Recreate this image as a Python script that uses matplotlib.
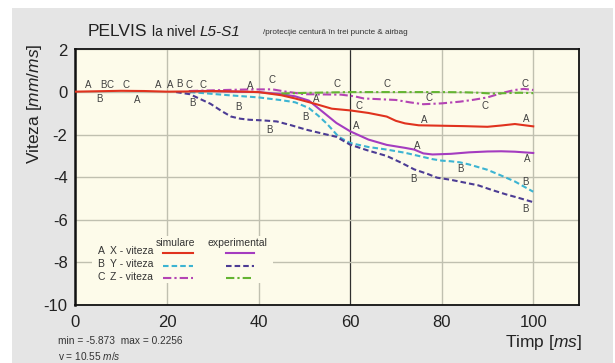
import matplotlib
matplotlib.use("Agg")
import matplotlib.pyplot as plt
from matplotlib.patches import Rectangle
from matplotlib.lines import Line2D

plt.rcParams['font.family'] = ['Liberation Sans', 'DejaVu Sans']
plt.rcParams['mathtext.fontset'] = 'custom'
plt.rcParams['mathtext.rm'] = 'Liberation Sans'
plt.rcParams['mathtext.it'] = 'Liberation Sans:italic'
plt.rcParams['lines.scale_dashes'] = False

# ---------------- data ----------------
a_sim_t = [0, 5, 10, 15, 20, 25, 30, 35, 40, 45, 48, 52, 56, 60, 64, 68, 70, 72, 75, 80, 85, 90, 93, 96, 100]
a_sim_v = [0.02, 0.04, 0.06, 0.05, 0.02, 0.03, 0.05, 0.03, 0.0, -0.15, -0.3, -0.53, -0.78, -0.86, -0.98, -1.15,
           -1.35, -1.47, -1.56, -1.58, -1.6, -1.63, -1.57, -1.5, -1.61]

a_exp_t = [25, 30, 35, 40, 45, 48, 51, 53, 55, 57, 60, 64, 68, 72, 74, 76, 78, 82, 86, 90, 93, 96, 100]
a_exp_v = [0.05, 0.05, 0.02, 0.0, -0.1, -0.2, -0.4, -0.75, -1.1, -1.45, -1.84, -2.23, -2.48, -2.62, -2.7,
           -2.88, -2.93, -2.9, -2.83, -2.79, -2.78, -2.8, -2.86]

b_sim_t = [25, 28, 33, 40, 45, 48, 51, 53, 55, 57.5, 60, 64, 68, 72, 75, 78, 80, 82, 84, 86, 90, 93, 96, 100]
b_sim_v = [0.0, -0.05, -0.14, -0.25, -0.38, -0.48, -0.75, -1.1, -1.5, -2.1, -2.39, -2.58, -2.7, -2.85, -3.0,
           -3.15, -3.22, -3.25, -3.3, -3.4, -3.65, -3.92, -4.2, -4.68]

b_exp_t = [22, 25, 27, 29.5, 32, 34, 36, 38, 41, 44, 47, 50.5, 54, 57, 60, 64, 68, 71, 74, 77, 79, 82, 85, 88,
           91, 94, 97, 100]
b_exp_v = [0.0, -0.1, -0.3, -0.55, -0.9, -1.15, -1.25, -1.3, -1.33, -1.38, -1.55, -1.77, -1.95, -2.1, -2.47,
           -2.75, -3.0, -3.3, -3.63, -3.85, -4.02, -4.12, -4.25, -4.38, -4.6, -4.8, -4.98, -5.17]

c_sim_t = [25, 28, 33, 37, 43, 46, 50, 54, 58, 61, 63, 66, 70, 73, 76, 80, 84, 87, 90, 92, 94, 96, 98, 100]
c_sim_v = [0.05, 0.07, 0.1, 0.12, 0.13, 0.02, -0.1, -0.11, -0.12, -0.2, -0.3, -0.33, -0.37, -0.48, -0.57,
           -0.53, -0.45, -0.36, -0.25, -0.12, 0.0, 0.1, 0.15, 0.1]

c_exp_t = [45, 50, 55, 60, 65, 70, 75, 80, 85, 88, 91, 94, 97, 100]
c_exp_v = [-0.07, -0.04, -0.02, 0.0, 0.0, 0.0, 0.0, 0.0, -0.01, -0.03, -0.07, -0.05, -0.03, -0.05]

marker_t = [2.8, 6.2, 7.6, 11.0, 18.1, 20.7, 22.8, 24.8, 27.9, 38.1, 42.9, 5.2, 13.4, 25.5, 35.7, 52.6, 50.2,
            42.4, 57.1, 68.0, 62.0, 61.3, 76.2, 77.3, 89.4, 98.2, 98.4, 74.7, 98.6, 84.2, 73.8, 98.4, 98.4]
marker_v = [0.35, 0.35, 0.35, 0.35, 0.35, 0.35, 0.38, 0.35, 0.35, 0.28, 0.59, -0.34, -0.37, -0.53, -0.68, -0.34,
            -1.19, -1.77, 0.37, 0.37, -0.64, -1.57, -1.30, -0.29, -0.64, 0.37, -1.26, -2.51, -3.13, -3.63, -4.06,
            -4.2, -5.49]
marker_s = ['A', 'B', 'C', 'C', 'A', 'A', 'B', 'C', 'C', 'A', 'C', 'B', 'A', 'B', 'B', 'A', 'B',
            'B', 'C', 'C', 'C', 'A', 'A', 'C', 'C', 'C', 'A', 'A', 'A', 'B', 'B', 'B', 'B']

x_ticks = [0, 20, 40, 60, 80, 100]
y_ticks = [2, 0, -2, -4, -6, -8, -10]

# ---------------- styles ----------------
RED = '#e0321e'
PURPLE = '#a43cc0'
CYAN = '#3cb4d2'
NAVY = '#4c3c94'
MAGENTA = '#b444b4'
GREEN = '#64b432'
DASH = (4.0, 2.2)
DASHDOT = (6.0, 2.2, 1.6, 2.2)

W, H = 615, 363
fig = plt.figure(figsize=(W / 100, H / 100), dpi=100)
fig.patch.set_facecolor('white')


def fx(px):
    return px / W


def fy(py):
    return 1 - py / H


fig.add_artist(Rectangle((fx(12), 0), fx(613) - fx(12), fy(8), transform=fig.transFigure,
                         facecolor='#e5e5e5', edgecolor='none', zorder=0))

ax = fig.add_axes([fx(74.5), fy(305), fx(579) - fx(74.5), fy(49.5) - fy(305)])
ax.set_facecolor('#fdfbea')
ax.set_xlim(-0.2, 110)
ax.set_ylim(-10, 2)
ax.set_xticks(x_ticks)
ax.set_yticks(y_ticks)
ax.set_xticklabels([str(v) for v in x_ticks])
ax.set_yticklabels([str(v) for v in y_ticks])
ax.tick_params(length=0, labelsize=12, colors='#222222')
ax.tick_params(axis='x', pad=7)
ax.tick_params(axis='y', pad=5)
ax.set_axisbelow(True)
ax.grid(True, color='#c0c0b0', lw=1.0)
for gl, v in zip(ax.get_xgridlines(), x_ticks):
    if v == 60:
        gl.set_color('#303030')
        gl.set_linewidth(0.9)
for s in ax.spines.values():
    s.set_color('#111111')
    s.set_linewidth(1.3)
ax.spines['left'].set_linewidth(1.8)

lw = 1.5
ax.plot(a_sim_t, a_sim_v, color=RED, lw=lw, zorder=4)
ax.plot(a_exp_t, a_exp_v, color=PURPLE, lw=lw, zorder=3)
ax.plot(b_sim_t, b_sim_v, color=CYAN, lw=lw, dashes=DASH, zorder=3)
ax.plot(b_exp_t, b_exp_v, color=NAVY, lw=lw, dashes=DASH, zorder=3)
ax.plot(c_sim_t, c_sim_v, color=MAGENTA, lw=lw, dashes=DASHDOT, zorder=3)
ax.plot(c_exp_t, c_exp_v, color=GREEN, lw=lw, dashes=DASHDOT, zorder=3)

for t, v, s in zip(marker_t, marker_v, marker_s):
    ax.text(t, v, s, fontsize=7, color='#404040', ha='center', va='center', zorder=5)

# ---------------- legend block ----------------
fig.add_artist(Rectangle((fx(92), fy(283)), fx(273) - fx(92), fy(236) - fy(283), transform=fig.transFigure,
                         facecolor='#fdfbea', edgecolor='none', zorder=2))
fig.text(fx(175), fy(243.5), 'simulare', fontsize=7.5, color='#333333', ha='center', va='center', zorder=3)
fig.text(fx(237.5), fy(243.5), 'experimental', fontsize=7.5, color='#333333', ha='center', va='center', zorder=3)
rows = [('A', 'X - viteza', 251, RED, PURPLE, None),
        ('B', 'Y - viteza', 264, CYAN, NAVY, DASH),
        ('C', 'Z - viteza', 276.5, MAGENTA, GREEN, DASHDOT)]
for letter, lab, py, c1, c2, d in rows:
    fig.text(fx(97.5), fy(py), letter, fontsize=7.5, color='#333333', ha='left', va='center', zorder=3)
    fig.text(fx(110), fy(py), lab, fontsize=7.5, color='#333333', ha='left', va='center', zorder=3)
    for x0, x1, c in ((163, 193, c1), (226, 254, c2)):
        ln = Line2D([fx(x0), fx(x1)], [fy(py + 1.5), fy(py + 1.5)], transform=fig.transFigure,
                    color=c, lw=lw, zorder=3)
        if d is not None:
            ln.set_dashes(d)
        fig.add_artist(ln)

# ---------------- texts ----------------
fig.text(fx(88), fy(36), 'PELVIS', fontsize=12.5, color='#222222', ha='left', va='baseline')
fig.text(fx(152), fy(36), 'la nivel', fontsize=10, color='#222222', ha='left', va='baseline')
fig.text(fx(200), fy(36), 'L5-S1', fontsize=11, style='italic', color='#222222', ha='left', va='baseline')
fig.text(fx(263), fy(34), '/protecţie centură în trei puncte & airbag', fontsize=5.9, color='#333333',
         ha='left', va='baseline')
fig.text(fx(35), fy(104), r'Viteza [$\mathit{mm/ms}$]', fontsize=12.5, color='#222222', rotation=90,
         ha='center', va='center')
fig.text(fx(505), fy(342), r'Timp [$\mathit{ms}$]', fontsize=12.5, color='#222222', ha='left', va='center')
fig.text(fx(58), fy(341), 'min = -5.873  max = 0.2256', fontsize=7.3, color='#333333', ha='left', va='center')
fig.text(fx(58), fy(356), r'v = 10.55 $\mathit{m/s}$', fontsize=7.3, color='#333333', ha='left', va='center')

fig.savefig('out.png', dpi=100, facecolor=fig.get_facecolor())
